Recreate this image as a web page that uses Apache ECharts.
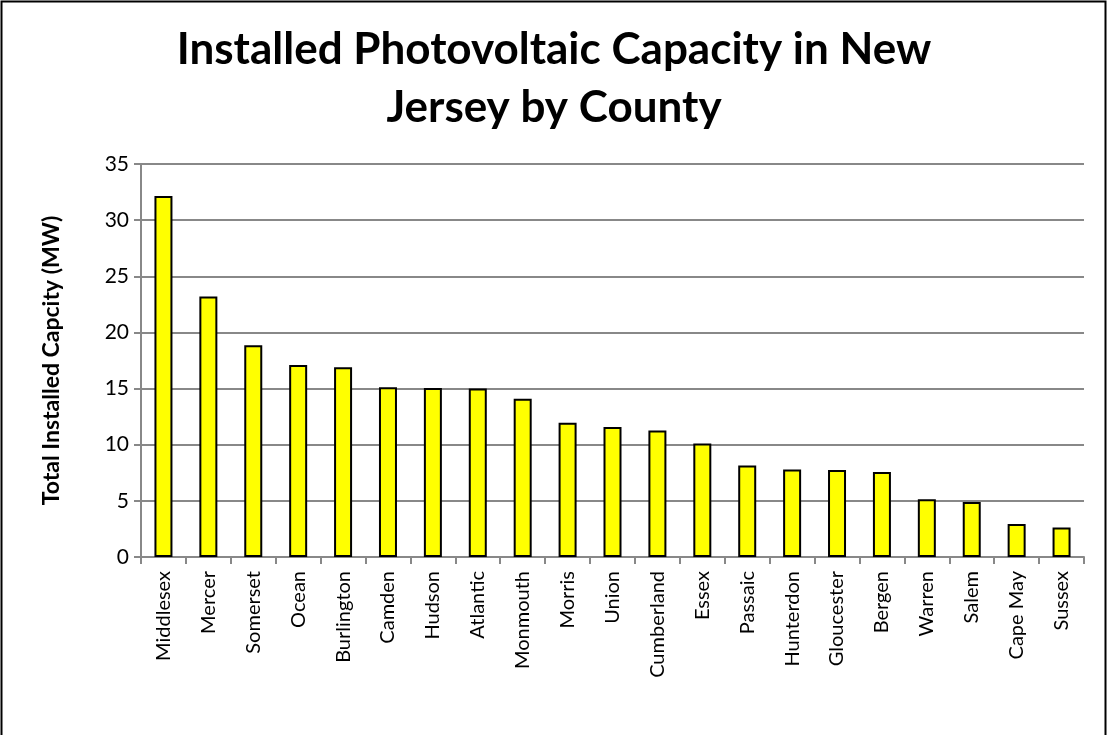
<!DOCTYPE html>
<html>
<head>
<meta charset="utf-8">
<script src="https://cdn.jsdelivr.net/npm/echarts@6/dist/echarts.min.js"></script>
<style>
  html, body { margin: 0; padding: 0; background: #fff; }
  #chart { width: 1108px; height: 735px; }
</style>
</head>
<body>
<div id="chart"></div>
<script>
// Counties, sorted by installed capacity
const counties = ['Middlesex', 'Mercer', 'Somerset', 'Ocean', 'Burlington', 'Camden', 'Hudson',
  'Atlantic', 'Monmouth', 'Morris', 'Union', 'Cumberland', 'Essex', 'Passaic', 'Hunterdon',
  'Gloucester', 'Bergen', 'Warren', 'Salem', 'Cape May', 'Sussex'];
// Total installed capacity (MW)
const capacityMW = [32.15, 23.2, 18.85, 17.1, 16.9, 15.12, 15.05, 15.0, 14.1, 11.95, 11.57,
  11.27, 10.1, 8.15, 7.8, 7.75, 7.57, 5.14, 4.9, 2.95, 2.62];

const fontFamily = 'Lato, "Open Sans", sans-serif';
const gridColor = '#888888';

const chart = echarts.init(document.getElementById('chart'), null, { renderer: 'canvas' });

chart.setOption({
  backgroundColor: '#ffffff',
  animation: false,
  title: {
    text: 'Installed Photovoltaic Capacity in New\nJersey by County',
    left: 'center',
    top: 16,
    textStyle: {
      fontFamily: fontFamily,
      fontWeight: 'bold',
      fontSize: 44,
      lineHeight: 58,
      color: '#000'
    }
  },
  graphic: [{
    type: 'rect',
    shape: { x: 1.5, y: 1.5, width: 1104, height: 740 },
    style: { fill: 'none', stroke: '#000', lineWidth: 2 },
    silent: true
  }],
  grid: {
    left: 141,
    right: 24,
    top: 164,
    bottom: 178
  },
  xAxis: {
    type: 'category',
    data: counties,
    boundaryGap: true,
    axisLine: { lineStyle: { color: gridColor, width: 2 } },
    axisTick: { show: true, alignWithLabel: false, length: 7, lineStyle: { color: gridColor, width: 2 } },
    axisLabel: {
      rotate: 90,
      interval: 0,
      margin: 14,
      fontFamily: fontFamily,
      fontSize: 20,
      color: '#000'
    }
  },
  yAxis: {
    type: 'value',
    min: 0,
    max: 35,
    interval: 5,
    name: 'Total Installed Capcity (MW)',
    nameLocation: 'middle',
    nameGap: 78,
    nameTextStyle: {
      fontFamily: fontFamily,
      fontWeight: 'bold',
      fontSize: 23,
      color: '#000'
    },
    axisLine: { show: true, lineStyle: { color: gridColor, width: 2 } },
    axisTick: { show: true, length: 7, lineStyle: { color: gridColor, width: 2 } },
    splitLine: { lineStyle: { color: gridColor, width: 2 } },
    axisLabel: {
      margin: 12,
      fontFamily: fontFamily,
      fontSize: 21,
      color: '#000'
    }
  },
  series: [{
    type: 'bar',
    data: capacityMW,
    barWidth: 18,
    itemStyle: {
      color: '#ffff00',
      borderColor: '#000',
      borderWidth: 2
    }
  }]
});
</script>
</body>
</html>
